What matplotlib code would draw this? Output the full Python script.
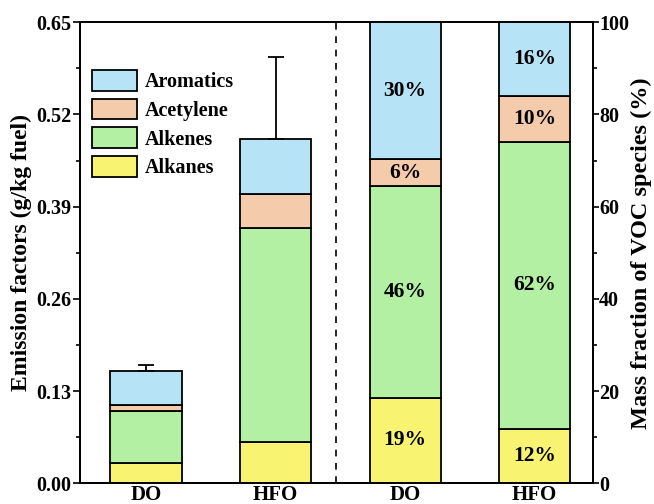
import matplotlib
matplotlib.use("Agg")
import matplotlib.pyplot as plt
from matplotlib.ticker import MultipleLocator, FixedLocator
import numpy as np

plt.rcParams['font.family'] = ['Liberation Serif', 'DejaVu Serif']
plt.rcParams['font.weight'] = 'bold'

fuels = ["DO", "HFO"]
species = ["Alkanes", "Alkenes", "Acetylene", "Aromatics"]
colors = ["#F8F472", "#B4F0A4", "#F4CCAC", "#B6E4F6"]

# emission factors (g/kg fuel), one list per species: [DO, HFO]
ef_alkanes = [0.028, 0.058]
ef_alkenes = [0.074, 0.302]
ef_acetylene = [0.009, 0.048]
ef_aromatics = [0.047, 0.078]
ef_error = [0.009, 0.115]

# mass fractions (%) per species: [DO, HFO]
frac_alkanes = [18.6, 11.7]
frac_alkenes = [45.9, 62.4]
frac_acetylene = [5.8, 9.9]
frac_aromatics = [29.7, 16.0]

ef = [ef_alkanes, ef_alkenes, ef_acetylene, ef_aromatics]
frac = [frac_alkanes, frac_alkenes, frac_acetylene, frac_aromatics]

fig = plt.figure(figsize=(6.54, 5.04), dpi=100)
ax = fig.add_axes([0.1223, 0.041, 0.7844, 0.915])
ax2 = ax.twinx()

x_ef = np.array([0, 1])
x_fr = np.array([2, 3])
width = 0.55

bottom = np.zeros(2)
handles = []
for vals, col, name in zip(ef, colors, species):
    b = ax.bar(x_ef, vals, width, bottom=bottom, color=col, edgecolor="black",
               linewidth=1.3, label=name, zorder=2)
    handles.append(b)
    bottom = bottom + np.array(vals)
ax.errorbar(x_ef, bottom, yerr=[np.zeros(2), ef_error], fmt="none",
            ecolor="black", elinewidth=1.3, capsize=5.5, capthick=1.3, zorder=3)

bottom = np.zeros(2)
for vals, col in zip(frac, colors):
    ax2.bar(x_fr, vals, width, bottom=bottom, color=col, edgecolor="black",
            linewidth=1.3, zorder=2)
    for xi, v, b0 in zip(x_fr, vals, bottom):
        ax2.text(xi, b0 + v / 2, f"{v:.0f}%", ha="center", va="center",
                 fontsize=15.5, fontweight="bold")
    bottom = bottom + np.array(vals)

ax.axvline(1.47, color="black", linestyle=(0, (4, 4)), linewidth=1.2)

ax.set_xlim(-0.51, 3.45)
ax.set_ylim(0, 0.65)
ax2.set_ylim(0, 100)

ax.set_xticks([0, 1, 2, 3])
ax.set_xticklabels(fuels + fuels, fontsize=15, fontweight="bold")
ax.tick_params(axis="x", length=0, pad=1)

ax.yaxis.set_major_locator(FixedLocator([0, 0.13, 0.26, 0.39, 0.52, 0.65]))
ax.yaxis.set_minor_locator(FixedLocator([0.065, 0.195, 0.325, 0.455, 0.585]))
ax.set_yticklabels(["0.00", "0.13", "0.26", "0.39", "0.52", "0.65"])
ax.tick_params(axis="y", which="major", length=5, width=1.2, labelsize=14.5, pad=1)
ax.tick_params(axis="y", which="minor", length=3, width=1.2)

ax2.yaxis.set_major_locator(MultipleLocator(20))
ax2.yaxis.set_minor_locator(MultipleLocator(10))
ax2.tick_params(axis="y", which="major", length=4, width=1.2, labelsize=14.5, pad=0.5)
ax2.tick_params(axis="y", which="minor", length=3, width=1.2)

for a in (ax, ax2):
    for s in a.spines.values():
        s.set_linewidth(1.3)
    for lbl in a.get_yticklabels():
        lbl.set_fontweight("bold")

ax.set_ylabel("Emission factors (g/kg fuel)", fontsize=17, fontweight="bold", labelpad=3)
ax2.set_ylabel("Mass fraction of VOC species (%)", fontsize=17.5, fontweight="bold", labelpad=1)

leg = ax.legend(handles[::-1], species[::-1], loc="upper left",
                bbox_to_anchor=(-0.012, 0.935), frameon=False,
                prop={"size": 14.5, "weight": "bold"},
                handlelength=2.25, handleheight=1.2, handletextpad=0.35,
                labelspacing=0.32)

fig.savefig("out.png", dpi=100)
